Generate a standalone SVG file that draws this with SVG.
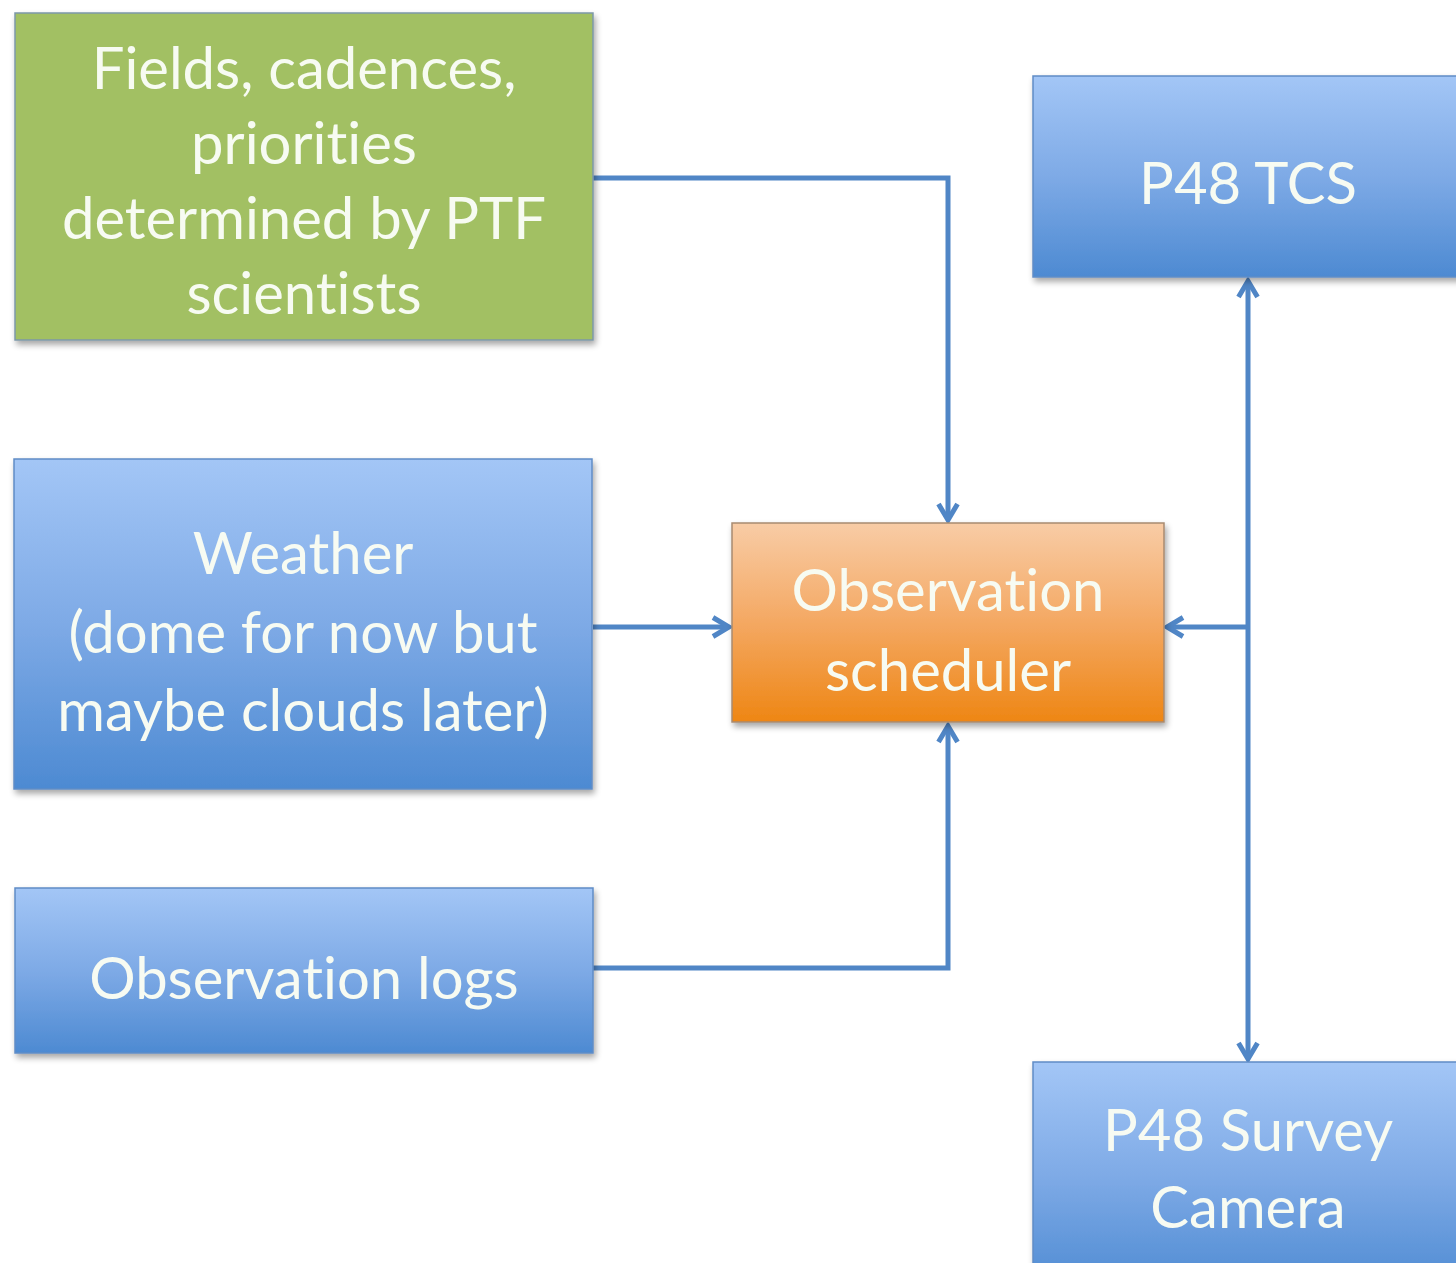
<svg xmlns="http://www.w3.org/2000/svg" width="1456" height="1263" viewBox="0 0 1456 1263">
<defs>
<linearGradient id="gBlue" x1="0" y1="0" x2="0" y2="1">
<stop offset="0" stop-color="#a3c6f6"/>
<stop offset="0.5" stop-color="#7eaae6"/>
<stop offset="1" stop-color="#4d8ad2"/>
</linearGradient>
<linearGradient id="gOrange" x1="0" y1="0" x2="0" y2="1">
<stop offset="0" stop-color="#f8cca6"/>
<stop offset="0.5" stop-color="#f4a862"/>
<stop offset="1" stop-color="#ee8614"/>
</linearGradient>
<filter id="shadow" x="-5%" y="-5%" width="115%" height="120%">
<feGaussianBlur in="SourceAlpha" stdDeviation="3"/>
<feOffset dx="2" dy="4" result="b"/>
<feComponentTransfer><feFuncA type="linear" slope="0.35"/></feComponentTransfer>
<feMerge><feMergeNode/><feMergeNode in="SourceGraphic"/></feMerge>
</filter>
<marker id="arr" viewBox="0 0 24 24" refX="20" refY="12" markerWidth="24" markerHeight="24" markerUnits="userSpaceOnUse" orient="auto-start-reverse">
<path d="M4,2.5 L20,12 L4,21.5" fill="none" stroke="#5086c6" stroke-width="5" stroke-linejoin="miter"/>
</marker>
<style>
.lbl{font-family:Lato,"Open Sans","Liberation Sans",sans-serif;font-size:58px;fill:#f7fbf2;text-anchor:middle;font-variant-ligatures:none}
.conn{fill:none;stroke:#5086c6;stroke-width:5}
.blue{fill:url(#gBlue);stroke:#5f8cc6;stroke-width:1.5}
</style>
</defs>
<rect width="1456" height="1263" fill="#ffffff"/>
<g id="connectors">
<path class="conn" d="M593,178 H948 V520" marker-end="url(#arr)"/>
<path class="conn" d="M593,627 H729" marker-end="url(#arr)"/>
<path class="conn" d="M593,968 H948 V726" marker-end="url(#arr)"/>
<path class="conn" d="M1248,281 V1059" marker-start="url(#arr)" marker-end="url(#arr)"/>
<path class="conn" d="M1250,627 H1167" marker-end="url(#arr)"/>
</g>
<g id="node-fields" filter="url(#shadow)">
<rect x="15" y="13" width="578" height="327" fill="#a2c064" stroke="#7d98a8" stroke-width="1.5"/>
<text class="lbl" x="304" y="89">Fields, cadences,</text>
<text class="lbl" x="304" y="164">priorities</text>
<text class="lbl" x="304" y="239">determined by PTF</text>
<text class="lbl" x="304" y="314">scientists</text>
</g>
<g id="node-weather" filter="url(#shadow)">
<rect class="blue" x="14" y="459" width="578" height="330"/>
<text class="lbl" x="303" y="574">Weather</text>
<text class="lbl" x="303" y="653">(dome for now but</text>
<text class="lbl" x="303" y="731">maybe clouds later)</text>
</g>
<g id="node-logs" filter="url(#shadow)">
<rect class="blue" x="15" y="888" width="578" height="165"/>
<text class="lbl" x="304" y="999">Observation logs</text>
</g>
<g id="node-scheduler" filter="url(#shadow)">
<rect x="732" y="523" width="432" height="199" fill="url(#gOrange)" stroke="#a88a70" stroke-width="1.5"/>
<text class="lbl" x="948" y="611">Observation</text>
<text class="lbl" x="948" y="691">scheduler</text>
</g>
<g id="node-tcs" filter="url(#shadow)">
<rect class="blue" x="1033" y="76" width="440" height="201"/>
<text class="lbl" x="1248" y="204">P48 TCS</text>
</g>
<g id="node-camera" filter="url(#shadow)">
<rect class="blue" x="1033" y="1062" width="440" height="230"/>
<text class="lbl" x="1248" y="1151">P48 Survey</text>
<text class="lbl" x="1248" y="1228">Camera</text>
</g>
</svg>
